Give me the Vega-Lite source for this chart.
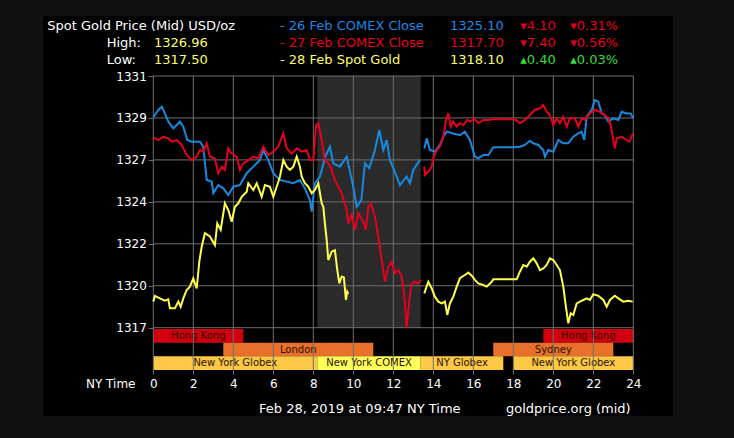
{
  "$schema": "https://vega.github.io/schema/vega-lite/v6.json",
  "width": 630,
  "height": 400,
  "autosize": {"type": "none"},
  "padding": {"left": 43, "top": 16, "right": 61, "bottom": 22},
  "background": "#111111",
  "config": {
    "view": {"fill": "#000000", "stroke": null},
    "font": "DejaVu Sans",
    "text": {"font": "DejaVu Sans"}
  },
  "datasets": {
    "markets": [
      {"id": 1, "name": "Hong Kong", "row": 1, "start": 0, "end": 4.5},
      {"id": 2, "name": "Hong Kong", "row": 1, "start": 19.5, "end": 24},
      {"id": 3, "name": "London", "row": 2, "start": 3.5, "end": 11},
      {"id": 4, "name": "Sydney", "row": 2, "start": 17, "end": 23},
      {"id": 5, "name": "New York Globex", "row": 3, "start": 0, "end": 8.2},
      {"id": 6, "name": "New York COMEX", "row": 3, "start": 8.2, "end": 13.37},
      {"id": 7, "name": "NY Globex", "row": 3, "start": 13.37, "end": 17.5},
      {"id": 8, "name": "New York Globex", "row": 3, "start": 18, "end": 24}
    ],
    "hours": [{"h": 0}, {"h": 2}, {"h": 4}, {"h": 6}, {"h": 8}, {"h": 10}, {"h": 12}, {"h": 14}, {"h": 16}, {"h": 18}, {"h": 20}, {"h": 22}, {"h": 24}],
    "levels": [{"p": 1317.45}, {"p": 1319.75}, {"p": 1322.05}, {"p": 1324.35}, {"p": 1326.65}, {"p": 1328.95}, {"p": 1331.25}],
    "titleRow": [{"line": 1, "t": "Spot Gold Price (Mid) USD/oz"}],
    "stats": [
      {"line": 2, "label": "High:", "value": "1326.96"},
      {"line": 3, "label": "Low:", "value": "1317.50"}
    ],
    "legend": [
      {"line": 1, "s": "26 Feb", "name": "- 26 Feb COMEX Close", "price": "1325.10", "chg": "▾4.10", "pct": "▾0.31%", "dir": "down"},
      {"line": 2, "s": "27 Feb", "name": "- 27 Feb COMEX Close", "price": "1317.70", "chg": "▾7.40", "pct": "▾0.56%", "dir": "down"},
      {"line": 3, "s": "28 Feb", "name": "- 28 Feb Spot Gold", "price": "1318.10", "chg": "▴0.40", "pct": "▴0.03%", "dir": "up"}
    ],
    "footer": [
      {"part": "stamp", "t": "Feb 28, 2019 at 09:47 NY Time"},
      {"part": "source", "t": "goldprice.org (mid)"}
    ],
    "prices": [
      {"s":"26 Feb","g":"26a","h":0,"p":1328.99},{"s":"26 Feb","g":"26a","h":0.25,"p":1329.39},{"s":"26 Feb","g":"26a","h":0.42,"p":1329.57},{"s":"26 Feb","g":"26a","h":0.58,"p":1329.2},{"s":"26 Feb","g":"26a","h":0.75,"p":1328.75},{"s":"26 Feb","g":"26a","h":1.0,"p":1328.38},{"s":"26 Feb","g":"26a","h":1.33,"p":1328.75},{"s":"26 Feb","g":"26a","h":1.5,"p":1328.47},{"s":"26 Feb","g":"26a","h":1.7,"p":1327.74},{"s":"26 Feb","g":"26a","h":1.92,"p":1327.65},{"s":"26 Feb","g":"26a","h":2.33,"p":1327.65},{"s":"26 Feb","g":"26a","h":2.5,"p":1327.37},{"s":"26 Feb","g":"26a","h":2.67,"p":1325.55},{"s":"26 Feb","g":"26a","h":2.92,"p":1325.46},{"s":"26 Feb","g":"26a","h":3.0,"p":1324.82},{"s":"26 Feb","g":"26a","h":3.25,"p":1325.27},{"s":"26 Feb","g":"26a","h":3.5,"p":1325.09},{"s":"26 Feb","g":"26a","h":3.75,"p":1324.73},{"s":"26 Feb","g":"26a","h":4.0,"p":1325.18},{"s":"26 Feb","g":"26a","h":4.33,"p":1325.27},{"s":"26 Feb","g":"26a","h":4.67,"p":1325.92},{"s":"26 Feb","g":"26a","h":5.0,"p":1326.28},{"s":"26 Feb","g":"26a","h":5.33,"p":1326.64},{"s":"26 Feb","g":"26a","h":5.5,"p":1327.19},{"s":"26 Feb","g":"26a","h":5.75,"p":1326.64},{"s":"26 Feb","g":"26a","h":6.0,"p":1325.92},{"s":"26 Feb","g":"26a","h":6.33,"p":1325.55},{"s":"26 Feb","g":"26a","h":6.67,"p":1325.46},{"s":"26 Feb","g":"26a","h":7.0,"p":1325.37},{"s":"26 Feb","g":"26a","h":7.33,"p":1325.55},{"s":"26 Feb","g":"26a","h":7.58,"p":1325.09},{"s":"26 Feb","g":"26a","h":7.83,"p":1324.45},{"s":"26 Feb","g":"26a","h":7.92,"p":1323.81},{"s":"26 Feb","g":"26a","h":8.08,"p":1325.37},{"s":"26 Feb","g":"26a","h":8.33,"p":1325.73},{"s":"26 Feb","g":"26a","h":8.6,"p":1326.83},{"s":"26 Feb","g":"26a","h":8.83,"p":1327.37},{"s":"26 Feb","g":"26a","h":9.0,"p":1326.46},{"s":"26 Feb","g":"26a","h":9.33,"p":1326.28},{"s":"26 Feb","g":"26a","h":9.67,"p":1326.83},{"s":"26 Feb","g":"26a","h":10.0,"p":1325.18},{"s":"26 Feb","g":"26a","h":10.17,"p":1324.08},{"s":"26 Feb","g":"26a","h":10.4,"p":1324.45},{"s":"26 Feb","g":"26a","h":10.58,"p":1326.46},{"s":"26 Feb","g":"26a","h":10.8,"p":1326.2},{"s":"26 Feb","g":"26a","h":11.08,"p":1327.19},{"s":"26 Feb","g":"26a","h":11.3,"p":1328.29},{"s":"26 Feb","g":"26a","h":11.5,"p":1327.19},{"s":"26 Feb","g":"26a","h":11.67,"p":1327.74},{"s":"26 Feb","g":"26a","h":11.83,"p":1326.64},{"s":"26 Feb","g":"26a","h":12.17,"p":1325.73},{"s":"26 Feb","g":"26a","h":12.33,"p":1325.27},{"s":"26 Feb","g":"26a","h":12.67,"p":1325.73},{"s":"26 Feb","g":"26a","h":12.83,"p":1325.37},{"s":"26 Feb","g":"26a","h":13.0,"p":1326.1},{"s":"26 Feb","g":"26a","h":13.33,"p":1326.64},
      {"s":"26 Feb","g":"26b","h":13.55,"p":1327.28},{"s":"26 Feb","g":"26b","h":13.67,"p":1327.83},{"s":"26 Feb","g":"26b","h":13.83,"p":1327.19},{"s":"26 Feb","g":"26b","h":14.08,"p":1327.1},{"s":"26 Feb","g":"26b","h":14.33,"p":1327.47},{"s":"26 Feb","g":"26b","h":14.5,"p":1327.92},{"s":"26 Feb","g":"26b","h":14.67,"p":1328.2},{"s":"26 Feb","g":"26b","h":15.0,"p":1328.1},{"s":"26 Feb","g":"26b","h":15.33,"p":1328.0},{"s":"26 Feb","g":"26b","h":15.58,"p":1328.2},{"s":"26 Feb","g":"26b","h":15.83,"p":1327.74},{"s":"26 Feb","g":"26b","h":16.08,"p":1326.83},{"s":"26 Feb","g":"26b","h":16.25,"p":1326.73},{"s":"26 Feb","g":"26b","h":16.5,"p":1326.92},{"s":"26 Feb","g":"26b","h":16.75,"p":1326.92},{"s":"26 Feb","g":"26b","h":17.0,"p":1327.34},{"s":"26 Feb","g":"26b","h":17.33,"p":1327.34},{"s":"26 Feb","g":"26b","h":17.67,"p":1327.34},{"s":"26 Feb","g":"26b","h":18.0,"p":1327.34},{"s":"26 Feb","g":"26b","h":18.33,"p":1327.37},{"s":"26 Feb","g":"26b","h":18.58,"p":1327.47},{"s":"26 Feb","g":"26b","h":18.83,"p":1327.7},{"s":"26 Feb","g":"26b","h":19.0,"p":1327.56},{"s":"26 Feb","g":"26b","h":19.25,"p":1327.47},{"s":"26 Feb","g":"26b","h":19.5,"p":1327.19},{"s":"26 Feb","g":"26b","h":19.58,"p":1326.83},{"s":"26 Feb","g":"26b","h":19.75,"p":1327.19},{"s":"26 Feb","g":"26b","h":20.0,"p":1327.1},{"s":"26 Feb","g":"26b","h":20.25,"p":1327.74},{"s":"26 Feb","g":"26b","h":20.5,"p":1327.56},{"s":"26 Feb","g":"26b","h":20.75,"p":1327.56},{"s":"26 Feb","g":"26b","h":21.0,"p":1327.92},{"s":"26 Feb","g":"26b","h":21.25,"p":1328.1},{"s":"26 Feb","g":"26b","h":21.42,"p":1328.2},{"s":"26 Feb","g":"26b","h":21.55,"p":1327.74},{"s":"26 Feb","g":"26b","h":21.67,"p":1329.02},{"s":"26 Feb","g":"26b","h":21.92,"p":1329.39},{"s":"26 Feb","g":"26b","h":22.08,"p":1329.93},{"s":"26 Feb","g":"26b","h":22.25,"p":1329.84},{"s":"26 Feb","g":"26b","h":22.42,"p":1329.2},{"s":"26 Feb","g":"26b","h":22.58,"p":1329.1},{"s":"26 Feb","g":"26b","h":22.75,"p":1328.75},{"s":"26 Feb","g":"26b","h":23.0,"p":1328.93},{"s":"26 Feb","g":"26b","h":23.25,"p":1328.84},{"s":"26 Feb","g":"26b","h":23.42,"p":1329.29},{"s":"26 Feb","g":"26b","h":23.67,"p":1329.2},{"s":"26 Feb","g":"26b","h":23.87,"p":1329.2},{"s":"26 Feb","g":"26b","h":24.0,"p":1328.93},
      {"s":"27 Feb","g":"27a","h":0,"p":1327.89},{"s":"27 Feb","g":"27a","h":0.25,"p":1327.74},{"s":"27 Feb","g":"27a","h":0.5,"p":1327.92},{"s":"27 Feb","g":"27a","h":0.75,"p":1327.83},{"s":"27 Feb","g":"27a","h":0.92,"p":1327.65},{"s":"27 Feb","g":"27a","h":1.17,"p":1327.74},{"s":"27 Feb","g":"27a","h":1.42,"p":1327.47},{"s":"27 Feb","g":"27a","h":1.67,"p":1326.92},{"s":"27 Feb","g":"27a","h":1.92,"p":1326.64},{"s":"27 Feb","g":"27a","h":2.17,"p":1326.83},{"s":"27 Feb","g":"27a","h":2.33,"p":1327.19},{"s":"27 Feb","g":"27a","h":2.5,"p":1327.1},{"s":"27 Feb","g":"27a","h":2.67,"p":1327.56},{"s":"27 Feb","g":"27a","h":2.83,"p":1326.83},{"s":"27 Feb","g":"27a","h":3.08,"p":1326.73},{"s":"27 Feb","g":"27a","h":3.25,"p":1325.92},{"s":"27 Feb","g":"27a","h":3.42,"p":1326.28},{"s":"27 Feb","g":"27a","h":3.58,"p":1326.1},{"s":"27 Feb","g":"27a","h":3.75,"p":1327.28},{"s":"27 Feb","g":"27a","h":3.92,"p":1327.0},{"s":"27 Feb","g":"27a","h":4.17,"p":1326.83},{"s":"27 Feb","g":"27a","h":4.33,"p":1326.1},{"s":"27 Feb","g":"27a","h":4.5,"p":1326.46},{"s":"27 Feb","g":"27a","h":4.75,"p":1326.64},{"s":"27 Feb","g":"27a","h":5.0,"p":1326.83},{"s":"27 Feb","g":"27a","h":5.25,"p":1326.73},{"s":"27 Feb","g":"27a","h":5.5,"p":1327.37},{"s":"27 Feb","g":"27a","h":5.75,"p":1326.92},{"s":"27 Feb","g":"27a","h":6.0,"p":1327.1},{"s":"27 Feb","g":"27a","h":6.25,"p":1327.37},{"s":"27 Feb","g":"27a","h":6.5,"p":1328.11},{"s":"27 Feb","g":"27a","h":6.67,"p":1327.28},{"s":"27 Feb","g":"27a","h":6.92,"p":1327.0},{"s":"27 Feb","g":"27a","h":7.17,"p":1327.28},{"s":"27 Feb","g":"27a","h":7.42,"p":1327.1},{"s":"27 Feb","g":"27a","h":7.67,"p":1327.19},{"s":"27 Feb","g":"27a","h":7.83,"p":1326.64},{"s":"27 Feb","g":"27a","h":8.0,"p":1326.64},{"s":"27 Feb","g":"27a","h":8.14,"p":1328.56},{"s":"27 Feb","g":"27a","h":8.25,"p":1328.66},{"s":"27 Feb","g":"27a","h":8.42,"p":1327.74},{"s":"27 Feb","g":"27a","h":8.58,"p":1326.64},{"s":"27 Feb","g":"27a","h":8.75,"p":1326.46},{"s":"27 Feb","g":"27a","h":8.92,"p":1326.1},{"s":"27 Feb","g":"27a","h":9.08,"p":1325.55},{"s":"27 Feb","g":"27a","h":9.25,"p":1325.18},{"s":"27 Feb","g":"27a","h":9.42,"p":1324.82},{"s":"27 Feb","g":"27a","h":9.67,"p":1323.9},{"s":"27 Feb","g":"27a","h":9.75,"p":1323.17},{"s":"27 Feb","g":"27a","h":9.92,"p":1323.63},{"s":"27 Feb","g":"27a","h":10.08,"p":1322.81},{"s":"27 Feb","g":"27a","h":10.25,"p":1323.72},{"s":"27 Feb","g":"27a","h":10.5,"p":1323.26},{"s":"27 Feb","g":"27a","h":10.63,"p":1322.81},{"s":"27 Feb","g":"27a","h":10.75,"p":1324.08},{"s":"27 Feb","g":"27a","h":10.88,"p":1324.27},{"s":"27 Feb","g":"27a","h":11.08,"p":1323.54},{"s":"27 Feb","g":"27a","h":11.25,"p":1322.44},{"s":"27 Feb","g":"27a","h":11.37,"p":1321.53},{"s":"27 Feb","g":"27a","h":11.5,"p":1320.61},{"s":"27 Feb","g":"27a","h":11.58,"p":1319.97},{"s":"27 Feb","g":"27a","h":11.75,"p":1320.79},{"s":"27 Feb","g":"27a","h":11.92,"p":1321.07},{"s":"27 Feb","g":"27a","h":12.08,"p":1320.43},{"s":"27 Feb","g":"27a","h":12.25,"p":1320.61},{"s":"27 Feb","g":"27a","h":12.42,"p":1320.25},{"s":"27 Feb","g":"27a","h":12.55,"p":1319.15},{"s":"27 Feb","g":"27a","h":12.67,"p":1317.45},{"s":"27 Feb","g":"27a","h":12.8,"p":1318.97},{"s":"27 Feb","g":"27a","h":12.92,"p":1319.88},{"s":"27 Feb","g":"27a","h":13.08,"p":1319.97},{"s":"27 Feb","g":"27a","h":13.25,"p":1319.88},{"s":"27 Feb","g":"27a","h":13.37,"p":1320.07},
      {"s":"27 Feb","g":"27b","h":13.55,"p":1326.28},{"s":"27 Feb","g":"27b","h":13.58,"p":1325.82},{"s":"27 Feb","g":"27b","h":13.75,"p":1326.0},{"s":"27 Feb","g":"27b","h":13.92,"p":1326.28},{"s":"27 Feb","g":"27b","h":14.0,"p":1326.73},{"s":"27 Feb","g":"27b","h":14.17,"p":1327.19},{"s":"27 Feb","g":"27b","h":14.33,"p":1327.37},{"s":"27 Feb","g":"27b","h":14.5,"p":1327.92},{"s":"27 Feb","g":"27b","h":14.64,"p":1328.84},{"s":"27 Feb","g":"27b","h":14.75,"p":1329.2},{"s":"27 Feb","g":"27b","h":14.87,"p":1328.47},{"s":"27 Feb","g":"27b","h":15.0,"p":1328.75},{"s":"27 Feb","g":"27b","h":15.17,"p":1328.47},{"s":"27 Feb","g":"27b","h":15.33,"p":1328.66},{"s":"27 Feb","g":"27b","h":15.5,"p":1328.56},{"s":"27 Feb","g":"27b","h":15.7,"p":1328.84},{"s":"27 Feb","g":"27b","h":15.87,"p":1328.75},{"s":"27 Feb","g":"27b","h":16.03,"p":1328.93},{"s":"27 Feb","g":"27b","h":16.25,"p":1328.66},{"s":"27 Feb","g":"27b","h":16.5,"p":1328.84},{"s":"27 Feb","g":"27b","h":16.75,"p":1328.84},{"s":"27 Feb","g":"27b","h":17.0,"p":1328.88},{"s":"27 Feb","g":"27b","h":17.33,"p":1328.88},{"s":"27 Feb","g":"27b","h":17.67,"p":1328.88},{"s":"27 Feb","g":"27b","h":18.08,"p":1328.88},{"s":"27 Feb","g":"27b","h":18.33,"p":1328.66},{"s":"27 Feb","g":"27b","h":18.58,"p":1328.84},{"s":"27 Feb","g":"27b","h":18.83,"p":1329.11},{"s":"27 Feb","g":"27b","h":19.08,"p":1329.39},{"s":"27 Feb","g":"27b","h":19.33,"p":1329.48},{"s":"27 Feb","g":"27b","h":19.5,"p":1329.66},{"s":"27 Feb","g":"27b","h":19.67,"p":1329.29},{"s":"27 Feb","g":"27b","h":19.83,"p":1329.11},{"s":"27 Feb","g":"27b","h":20.0,"p":1328.56},{"s":"27 Feb","g":"27b","h":20.17,"p":1328.93},{"s":"27 Feb","g":"27b","h":20.33,"p":1328.66},{"s":"27 Feb","g":"27b","h":20.5,"p":1329.02},{"s":"27 Feb","g":"27b","h":20.67,"p":1328.47},{"s":"27 Feb","g":"27b","h":20.83,"p":1328.93},{"s":"27 Feb","g":"27b","h":21.08,"p":1328.93},{"s":"27 Feb","g":"27b","h":21.25,"p":1328.47},{"s":"27 Feb","g":"27b","h":21.42,"p":1328.93},{"s":"27 Feb","g":"27b","h":21.58,"p":1328.84},{"s":"27 Feb","g":"27b","h":21.83,"p":1329.2},{"s":"27 Feb","g":"27b","h":22.08,"p":1329.39},{"s":"27 Feb","g":"27b","h":22.33,"p":1329.29},{"s":"27 Feb","g":"27b","h":22.58,"p":1329.1},{"s":"27 Feb","g":"27b","h":22.75,"p":1328.93},{"s":"27 Feb","g":"27b","h":22.87,"p":1328.56},{"s":"27 Feb","g":"27b","h":23.0,"p":1327.74},{"s":"27 Feb","g":"27b","h":23.08,"p":1327.28},{"s":"27 Feb","g":"27b","h":23.17,"p":1327.83},{"s":"27 Feb","g":"27b","h":23.42,"p":1327.92},{"s":"27 Feb","g":"27b","h":23.67,"p":1327.74},{"s":"27 Feb","g":"27b","h":23.8,"p":1327.65},{"s":"27 Feb","g":"27b","h":24.0,"p":1328.11},
      {"s":"28 Feb","g":"28a","h":0,"p":1318.88},{"s":"28 Feb","g":"28a","h":0.08,"p":1319.19},{"s":"28 Feb","g":"28a","h":0.33,"p":1319.06},{"s":"28 Feb","g":"28a","h":0.58,"p":1318.93},{"s":"28 Feb","g":"28a","h":0.75,"p":1319.0},{"s":"28 Feb","g":"28a","h":0.83,"p":1318.51},{"s":"28 Feb","g":"28a","h":1.08,"p":1318.51},{"s":"28 Feb","g":"28a","h":1.25,"p":1318.88},{"s":"28 Feb","g":"28a","h":1.37,"p":1318.6},{"s":"28 Feb","g":"28a","h":1.5,"p":1319.06},{"s":"28 Feb","g":"28a","h":1.67,"p":1319.52},{"s":"28 Feb","g":"28a","h":1.83,"p":1319.7},{"s":"28 Feb","g":"28a","h":2.0,"p":1320.16},{"s":"28 Feb","g":"28a","h":2.17,"p":1319.6},{"s":"28 Feb","g":"28a","h":2.3,"p":1321.07},{"s":"28 Feb","g":"28a","h":2.42,"p":1321.89},{"s":"28 Feb","g":"28a","h":2.58,"p":1322.63},{"s":"28 Feb","g":"28a","h":2.83,"p":1322.45},{"s":"28 Feb","g":"28a","h":3.08,"p":1321.98},{"s":"28 Feb","g":"28a","h":3.2,"p":1323.17},{"s":"28 Feb","g":"28a","h":3.37,"p":1322.81},{"s":"28 Feb","g":"28a","h":3.58,"p":1324.27},{"s":"28 Feb","g":"28a","h":3.75,"p":1323.9},{"s":"28 Feb","g":"28a","h":3.92,"p":1323.26},{"s":"28 Feb","g":"28a","h":4.08,"p":1324.08},{"s":"28 Feb","g":"28a","h":4.25,"p":1324.27},{"s":"28 Feb","g":"28a","h":4.42,"p":1324.63},{"s":"28 Feb","g":"28a","h":4.67,"p":1324.9},{"s":"28 Feb","g":"28a","h":4.75,"p":1325.37},{"s":"28 Feb","g":"28a","h":5.0,"p":1325.0},{"s":"28 Feb","g":"28a","h":5.17,"p":1325.37},{"s":"28 Feb","g":"28a","h":5.42,"p":1324.63},{"s":"28 Feb","g":"28a","h":5.58,"p":1325.27},{"s":"28 Feb","g":"28a","h":5.83,"p":1325.18},{"s":"28 Feb","g":"28a","h":6.0,"p":1324.63},{"s":"28 Feb","g":"28a","h":6.17,"p":1325.18},{"s":"28 Feb","g":"28a","h":6.33,"p":1325.73},{"s":"28 Feb","g":"28a","h":6.5,"p":1326.64},{"s":"28 Feb","g":"28a","h":6.67,"p":1326.28},{"s":"28 Feb","g":"28a","h":6.83,"p":1326.1},{"s":"28 Feb","g":"28a","h":7.0,"p":1326.28},{"s":"28 Feb","g":"28a","h":7.17,"p":1326.83},{"s":"28 Feb","g":"28a","h":7.33,"p":1326.28},{"s":"28 Feb","g":"28a","h":7.42,"p":1325.73},{"s":"28 Feb","g":"28a","h":7.58,"p":1325.37},{"s":"28 Feb","g":"28a","h":7.75,"p":1325.18},{"s":"28 Feb","g":"28a","h":7.92,"p":1324.82},{"s":"28 Feb","g":"28a","h":8.08,"p":1325.0},{"s":"28 Feb","g":"28a","h":8.25,"p":1325.37},{"s":"28 Feb","g":"28a","h":8.42,"p":1324.27},{"s":"28 Feb","g":"28a","h":8.5,"p":1324.08},{"s":"28 Feb","g":"28a","h":8.58,"p":1323.17},{"s":"28 Feb","g":"28a","h":8.67,"p":1322.26},{"s":"28 Feb","g":"28a","h":8.75,"p":1321.16},{"s":"28 Feb","g":"28a","h":8.92,"p":1321.62},{"s":"28 Feb","g":"28a","h":9.08,"p":1321.7},{"s":"28 Feb","g":"28a","h":9.2,"p":1320.61},{"s":"28 Feb","g":"28a","h":9.3,"p":1319.88},{"s":"28 Feb","g":"28a","h":9.42,"p":1320.25},{"s":"28 Feb","g":"28a","h":9.53,"p":1320.2},{"s":"28 Feb","g":"28a","h":9.63,"p":1318.97},{"s":"28 Feb","g":"28a","h":9.7,"p":1319.42},{"s":"28 Feb","g":"28a","h":9.75,"p":1319.3},
      {"s":"28 Feb","g":"28b","h":13.55,"p":1319.33},{"s":"28 Feb","g":"28b","h":13.75,"p":1319.97},{"s":"28 Feb","g":"28b","h":13.92,"p":1319.6},{"s":"28 Feb","g":"28b","h":14.08,"p":1319.15},{"s":"28 Feb","g":"28b","h":14.25,"p":1318.88},{"s":"28 Feb","g":"28b","h":14.42,"p":1318.78},{"s":"28 Feb","g":"28b","h":14.58,"p":1318.88},{"s":"28 Feb","g":"28b","h":14.7,"p":1318.15},{"s":"28 Feb","g":"28b","h":14.83,"p":1318.78},{"s":"28 Feb","g":"28b","h":15.0,"p":1319.15},{"s":"28 Feb","g":"28b","h":15.17,"p":1319.7},{"s":"28 Feb","g":"28b","h":15.33,"p":1320.16},{"s":"28 Feb","g":"28b","h":15.58,"p":1320.34},{"s":"28 Feb","g":"28b","h":15.75,"p":1320.47},{"s":"28 Feb","g":"28b","h":15.92,"p":1320.3},{"s":"28 Feb","g":"28b","h":16.08,"p":1320.07},{"s":"28 Feb","g":"28b","h":16.25,"p":1319.88},{"s":"28 Feb","g":"28b","h":16.5,"p":1319.79},{"s":"28 Feb","g":"28b","h":16.67,"p":1319.7},{"s":"28 Feb","g":"28b","h":16.92,"p":1319.97},{"s":"28 Feb","g":"28b","h":17.0,"p":1320.1},{"s":"28 Feb","g":"28b","h":17.5,"p":1320.1},{"s":"28 Feb","g":"28b","h":18.17,"p":1320.1},{"s":"28 Feb","g":"28b","h":18.33,"p":1320.52},{"s":"28 Feb","g":"28b","h":18.5,"p":1320.89},{"s":"28 Feb","g":"28b","h":18.67,"p":1320.8},{"s":"28 Feb","g":"28b","h":18.83,"p":1321.07},{"s":"28 Feb","g":"28b","h":19.0,"p":1321.25},{"s":"28 Feb","g":"28b","h":19.17,"p":1320.98},{"s":"28 Feb","g":"28b","h":19.33,"p":1320.61},{"s":"28 Feb","g":"28b","h":19.5,"p":1320.7},{"s":"28 Feb","g":"28b","h":19.67,"p":1320.89},{"s":"28 Feb","g":"28b","h":19.83,"p":1321.25},{"s":"28 Feb","g":"28b","h":20.0,"p":1321.16},{"s":"28 Feb","g":"28b","h":20.17,"p":1320.89},{"s":"28 Feb","g":"28b","h":20.33,"p":1320.61},{"s":"28 Feb","g":"28b","h":20.5,"p":1319.7},{"s":"28 Feb","g":"28b","h":20.63,"p":1318.6},{"s":"28 Feb","g":"28b","h":20.75,"p":1317.69},{"s":"28 Feb","g":"28b","h":20.87,"p":1318.24},{"s":"28 Feb","g":"28b","h":21.0,"p":1318.15},{"s":"28 Feb","g":"28b","h":21.17,"p":1318.78},{"s":"28 Feb","g":"28b","h":21.33,"p":1318.88},{"s":"28 Feb","g":"28b","h":21.5,"p":1318.97},{"s":"28 Feb","g":"28b","h":21.67,"p":1319.06},{"s":"28 Feb","g":"28b","h":21.83,"p":1318.97},{"s":"28 Feb","g":"28b","h":22.0,"p":1319.29},{"s":"28 Feb","g":"28b","h":22.25,"p":1319.2},{"s":"28 Feb","g":"28b","h":22.5,"p":1318.97},{"s":"28 Feb","g":"28b","h":22.67,"p":1318.6},{"s":"28 Feb","g":"28b","h":22.83,"p":1318.97},{"s":"28 Feb","g":"28b","h":23.08,"p":1319.2},{"s":"28 Feb","g":"28b","h":23.25,"p":1319.06},{"s":"28 Feb","g":"28b","h":23.5,"p":1318.88},{"s":"28 Feb","g":"28b","h":23.75,"p":1318.93},{"s":"28 Feb","g":"28b","h":23.97,"p":1318.88}
    ]
  },
  "layer": [
    {
      "data": {"name": "markets"},
      "layer": [
        {
          "mark": {"type": "rect"},
          "encoding": {
            "x": {
              "field": "start", "type": "quantitative",
              "scale": {"domain": [-5.515, 25.985], "nice": false, "zero": false},
              "axis": {
                "values": [0, 2, 4, 6, 8, 10, 12, 14, 16, 18, 20, 22, 24],
                "format": "d", "orient": "bottom", "offset": -46,
                "domain": false, "grid": false,
                "tickSize": 4, "tickColor": "#707070",
                "labelColor": "#ffffff", "labelFont": "DejaVu Sans", "labelFontSize": 12, "labelPadding": 4,
                "title": "NY Time", "titleColor": "#ffffff", "titleFont": "DejaVu Sans", "titleFontSize": 12,
                "titleFontWeight": "normal", "titleX": 92, "titleY": 17.7, "titleAlign": "right", "titleBaseline": "alphabetic"
              }
            },
            "x2": {"field": "end"},
            "y": {
              "field": "row", "type": "ordinal",
              "scale": {"type": "band", "domain": [1, 2, 3], "range": [313, 354], "paddingInner": 0, "paddingOuter": 0},
              "axis": null
            },
            "color": {
              "field": "name", "type": "nominal",
              "scale": {
                "domain": ["Hong Kong", "London", "Sydney", "New York Globex", "NY Globex", "New York COMEX"],
                "range": ["#d2000f", "#e8702a", "#e8702a", "#fdc846", "#fdc846", "#ffff5a"]
              },
              "legend": null
            }
          }
        },
        {
          "transform": [{"fold": ["start", "end"], "as": ["edge", "t"]}],
          "mark": {"type": "text", "fontSize": 10, "color": "#2a1200", "baseline": "middle", "align": "center"},
          "encoding": {
            "x": {"field": "t", "aggregate": "mean", "type": "quantitative"},
            "y": {"field": "row", "type": "ordinal"},
            "text": {"field": "name"},
            "detail": {"field": "id"}
          }
        }
      ]
    },
    {
      "layer": [
        {
          "data": {"name": "markets"},
          "transform": [{"filter": "datum.name === 'New York COMEX'"}],
          "mark": {"type": "rect", "color": "#2b2b2b"},
          "encoding": {
            "x": {"field": "start", "type": "quantitative"},
            "x2": {"field": "end"},
            "y": {"datum": 1331.25, "type": "quantitative", "scale": {"domain": [1317.45, 1331.25], "range": [311.7, 60], "nice": false, "zero": false}},
            "y2": {"datum": 1317.45}
          }
        },
        {
          "data": {"name": "hours"},
          "mark": {"type": "rule", "color": "#707070", "strokeWidth": 1},
          "encoding": {
            "x": {"field": "h", "type": "quantitative"},
            "y": {"datum": 1331.25, "type": "quantitative"},
            "y2": {"datum": 1315.13}
          }
        },
        {
          "data": {"name": "levels"},
          "mark": {"type": "rule", "color": "#707070", "strokeWidth": 1},
          "encoding": {
            "x": {"datum": 0, "type": "quantitative"},
            "x2": {"datum": 24},
            "y": {
              "field": "p", "type": "quantitative",
              "axis": {
                "values": [1317.45, 1319.75, 1322.05, 1324.35, 1326.65, 1328.95, 1331.25],
                "format": ".0f", "orient": "left", "offset": -110.3,
                "domain": false, "grid": false,
                "tickSize": 5, "tickColor": "#707070",
                "labelColor": "#ffffff", "labelFont": "DejaVu Sans", "labelFontSize": 12, "labelPadding": 2,
                "title": null
              }
            }
          }
        },
        {
          "data": {"name": "prices"},
          "mark": {"type": "line", "strokeWidth": 2, "interpolate": "linear"},
          "encoding": {
            "x": {"field": "h", "type": "quantitative"},
            "y": {"field": "p", "type": "quantitative"},
            "color": {
              "field": "s", "type": "nominal",
              "scale": {"domain": ["26 Feb", "27 Feb", "28 Feb"], "range": ["#168ae0", "#e5001e", "#ffff4d"]},
              "legend": null
            },
            "detail": {"field": "g"}
          }
        },
        {
          "data": {"name": "footer"},
          "transform": [{"filter": "datum.part === 'stamp'"}],
          "mark": {"type": "text", "align": "left", "baseline": "alphabetic", "fontSize": 13, "color": "#ffffff"},
          "encoding": {
            "x": {"datum": 5.285, "type": "quantitative"},
            "y": {"datum": 1312.79, "type": "quantitative"},
            "text": {"field": "t"}
          }
        },
        {
          "data": {"name": "footer"},
          "transform": [{"filter": "datum.part === 'source'"}],
          "mark": {"type": "text", "align": "right", "baseline": "alphabetic", "fontSize": 13, "color": "#ffffff"},
          "encoding": {
            "x": {"datum": 23.87, "type": "quantitative"},
            "y": {"datum": 1312.79, "type": "quantitative"},
            "text": {"field": "t"}
          }
        }
      ]
    },
    {
      "layer": [
        {
          "data": {"name": "titleRow"},
          "mark": {"type": "text", "align": "left", "baseline": "alphabetic", "fontSize": 13, "color": "#ffffff"},
          "encoding": {
            "x": {"datum": -5.3, "type": "quantitative"},
            "y": {"field": "line", "type": "ordinal", "scale": {"type": "point", "domain": [1, 2, 3], "range": [14, 48], "padding": 0}, "axis": null},
            "text": {"field": "t"}
          }
        },
        {
          "data": {"name": "stats"},
          "mark": {"type": "text", "align": "left", "baseline": "alphabetic", "fontSize": 13, "color": "#ffffff"},
          "encoding": {
            "x": {"datum": -2.33, "type": "quantitative"},
            "y": {"field": "line", "type": "ordinal"},
            "text": {"field": "label"}
          }
        },
        {
          "data": {"name": "stats"},
          "mark": {"type": "text", "align": "left", "baseline": "alphabetic", "fontSize": 13, "color": "#ffff66"},
          "encoding": {
            "x": {"datum": 0.035, "type": "quantitative"},
            "y": {"field": "line", "type": "ordinal"},
            "text": {"field": "value"}
          }
        },
        {
          "data": {"name": "legend"},
          "mark": {"type": "text", "align": "left", "baseline": "alphabetic", "fontSize": 13},
          "encoding": {
            "x": {"datum": 6.335, "type": "quantitative"},
            "y": {"field": "line", "type": "ordinal"},
            "text": {"field": "name"},
            "color": {
              "field": "s", "type": "nominal",
              "scale": {"domain": ["26 Feb", "27 Feb", "28 Feb", "down", "up"], "range": ["#1a8ae6", "#e8001e", "#ffff66", "#e8001e", "#33dd33"]},
              "legend": null
            }
          }
        },
        {
          "data": {"name": "legend"},
          "mark": {"type": "text", "align": "right", "baseline": "alphabetic", "fontSize": 13},
          "encoding": {
            "x": {"datum": 17.52, "type": "quantitative"},
            "y": {"field": "line", "type": "ordinal"},
            "text": {"field": "price"},
            "color": {"field": "s", "type": "nominal", "legend": null}
          }
        },
        {
          "data": {"name": "legend"},
          "mark": {"type": "text", "align": "left", "baseline": "alphabetic", "fontSize": 13},
          "encoding": {
            "x": {"datum": 18.35, "type": "quantitative"},
            "y": {"field": "line", "type": "ordinal"},
            "text": {"field": "chg"},
            "color": {"field": "dir", "type": "nominal", "legend": null}
          }
        },
        {
          "data": {"name": "legend"},
          "mark": {"type": "text", "align": "left", "baseline": "alphabetic", "fontSize": 13},
          "encoding": {
            "x": {"datum": 20.85, "type": "quantitative"},
            "y": {"field": "line", "type": "ordinal"},
            "text": {"field": "pct"},
            "color": {"field": "dir", "type": "nominal", "legend": null}
          }
        }
      ]
    }
  ],
  "resolve": {"scale": {"y": "independent", "color": "independent"}}
}
